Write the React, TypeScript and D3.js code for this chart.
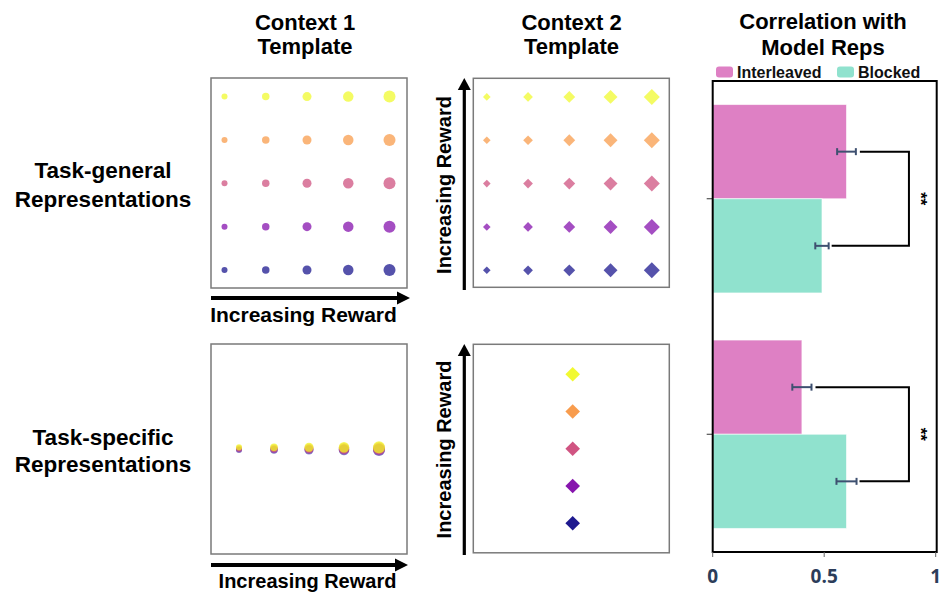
import React from 'react';
import * as d3 from 'd3';

// ---- Template grids ----
const rewardLevels = [1, 2, 3, 4, 5];               // reward magnitude per column (context 1) / size
const rowShades = [1, 0.75, 0.5, 0.25, 0];          // plasma position for each row, top to bottom

// ---- Correlation bars ----
const groups = ['Task-general', 'Task-specific'];
const conditions = ['Interleaved', 'Blocked'];
const interleavedMeans = [0.6, 0.4];
const blockedMeans = [0.49, 0.6];
const interleavedErr = [0.042, 0.043];
const blockedErr = [0.03, 0.045];
const sigLabels = ['**', '**'];
const xTicks = [0, 0.5, 1];
const xTickLabels = ['0', '0.5', '1'];

const W = 950;
const H = 596;
const FONT = "'Liberation Sans', Arial, Helvetica, sans-serif";
const BAR_COLORS: Record<string, string> = { Interleaved: '#de80c4', Blocked: '#90e2ce' };

type Box = { x: number; y: number; w: number; h: number };

function Arrow({ x1, y1, x2, y2, width = 4, head = 13, half = 6.5 }: any) {
  const a = Math.atan2(y2 - y1, x2 - x1);
  const bx = x2 - head * Math.cos(a);
  const by = y2 - head * Math.sin(a);
  const nx = -Math.sin(a) * half;
  const ny = Math.cos(a) * half;
  return (
    <g>
      <line x1={x1} y1={y1} x2={bx} y2={by} stroke="#000" strokeWidth={width} />
      <polygon
        points={`${x2},${y2} ${bx + nx},${by + ny} ${bx - nx},${by - ny}`}
        fill="#000"
      />
    </g>
  );
}

function diamond(cx: number, cy: number, r: number) {
  return `M${cx},${cy - r}L${cx + r},${cy}L${cx},${cy + r}L${cx - r},${cy}Z`;
}

function Frame({ b }: { b: Box }) {
  return <rect x={b.x} y={b.y} width={b.w} height={b.h} fill="#fff" stroke="#7a7a7a" strokeWidth={1.5} />;
}

function GeneralGrid({ b, shape }: { b: Box; shape: 'circle' | 'diamond' }) {
  const x = d3.scalePoint<number>().domain(rewardLevels).range([b.x + 13.5, b.x + 178.5]);
  const y = d3.scalePoint<number>().domain(rowShades).range([b.y + 18.6, b.y + 192]);
  const rCircle = d3.scaleLinear().domain([1, 5]).range([3, 6]);
  const rDiamond = d3.scaleLinear().domain([1, 5]).range([3.8, 8]);
  return (
    <g>
      <Frame b={b} />
      {rowShades.map((s) =>
        rewardLevels.map((v) =>
          shape === 'circle' ? (
            <circle key={`${s}-${v}`} cx={x(v)} cy={y(s)} r={rCircle(v)} fill={d3.interpolatePlasma(s)} fillOpacity={0.7} />
          ) : (
            <path key={`${s}-${v}`} d={diamond(x(v)!, y(s)!, rDiamond(v))} fill={d3.interpolatePlasma(s)} fillOpacity={0.7} />
          )
        )
      )}
    </g>
  );
}

// Context 1, task-specific: the rows collapse onto one line, reward still spreads along x
function SpecificRow({ b }: { b: Box }) {
  const x = d3.scalePoint<number>().domain(rewardLevels).range([b.x + 28, b.x + 168]);
  const dy = d3.scalePoint<number>().domain(rowShades).range([-1, 1.8]);
  const cy = b.y + 104.3;
  const r = d3.scaleLinear().domain([1, 5]).range([3, 6]);
  const drawOrder = [...rowShades].reverse();
  return (
    <g>
      <Frame b={b} />
      {drawOrder.map((s) =>
        rewardLevels.map((v) => (
          <circle
            key={`${s}-${v}`}
            cx={x(v)}
            cy={cy + dy(s)!}
            r={r(v)}
            fill={d3.interpolatePlasma(s)}
            fillOpacity={s === 1 ? 0.7 : 0.45}
          />
        ))
      )}
    </g>
  );
}

// Context 2, task-specific: reward spreads along y in a single column
function SpecificColumn({ b }: { b: Box }) {
  const y = d3.scalePoint<number>().domain(rowShades).range([b.y + 30, b.y + 179]);
  const cx = b.x + 99.4;
  return (
    <g>
      <Frame b={b} />
      {rowShades.map((s) => (
        <path key={s} d={diamond(cx, y(s)!, 7.3)} fill={d3.interpolatePlasma(s)} fillOpacity={0.93} />
      ))}
    </g>
  );
}

function BarPanel() {
  const top = 81;
  const bottom = 552;
  const x = d3.scaleLinear().domain([0, 1]).range([712.7, 935.7]);
  const y = d3.scaleBand<string>().domain(groups).range([top, bottom]).paddingInner(0.2).paddingOuter(0.1);
  const sub = d3.scaleBand<string>().domain(conditions).range([0, y.bandwidth()]);
  const means: Record<string, number[]> = { Interleaved: interleavedMeans, Blocked: blockedMeans };
  const errs: Record<string, number[]> = { Interleaved: interleavedErr, Blocked: blockedErr };
  const bracketX = x(0.88);
  const errColor = '#3e5070';
  return (
    <g>
      {/* legend */}
      {conditions.map((c, i) => {
        const lx = i === 0 ? 716 : 837;
        return (
          <g key={c}>
            <rect x={lx} y={66.5} width={17} height={11} rx={3} fill={BAR_COLORS[c]} />
            <text x={lx + 21} y={77.5} fontFamily={FONT} fontWeight="bold" fontSize={16} fill="#111">
              {c}
            </text>
          </g>
        );
      })}

      {groups.map((g, gi) => (
        <g key={g}>
          {conditions.map((c) => {
            const y0 = y(g)! + sub(c)!;
            const v = means[c][gi];
            return (
              <rect key={c} x={x(0)} y={y0} width={x(v) - x(0)} height={sub.bandwidth()} fill={BAR_COLORS[c]} stroke="#fff" strokeOpacity={0.6} strokeWidth={1} />
            );
          })}
          {conditions.map((c) => {
            const cy = y(g)! + sub(c)! + sub.bandwidth() / 2;
            const v = means[c][gi];
            const e = errs[c][gi];
            return (
              <g key={c} stroke={errColor} strokeWidth={2}>
                <line x1={x(v - e)} x2={x(v + e)} y1={cy} y2={cy} />
                <line x1={x(v - e)} x2={x(v - e)} y1={cy - 3.5} y2={cy + 3.5} />
                <line x1={x(v + e)} x2={x(v + e)} y1={cy - 3.5} y2={cy + 3.5} />
              </g>
            );
          })}
          {/* significance bracket */}
          {(() => {
            const yA = y(g)! + sub('Interleaved')! + sub.bandwidth() / 2;
            const yB = y(g)! + sub('Blocked')! + sub.bandwidth() / 2;
            const xA = x(interleavedMeans[gi] + interleavedErr[gi]) + 4;
            const xB = x(blockedMeans[gi] + blockedErr[gi]) + 3;
            return (
              <g>
                <path d={`M${xA},${yA}H${bracketX}V${yB}H${xB}`} fill="none" stroke="#000" strokeWidth={2} />
                <text
                  transform={`translate(${bracketX + 6},${(yA + yB) / 2}) rotate(90)`}
                  textAnchor="middle"
                  fontFamily={FONT}
                  fontWeight="bold"
                  fontSize={17}
                  fill="#000"
                >
                  {sigLabels[gi]}
                </text>
              </g>
            );
          })()}
          <line x1={x(0) - 6} x2={x(0)} y1={y(g)! + y.bandwidth() / 2} y2={y(g)! + y.bandwidth() / 2} stroke="#333" strokeWidth={1} />
        </g>
      ))}

      <rect x={x(0)} y={top} width={x(1) - x(0) + 1} height={bottom - top} fill="none" stroke="#000" strokeWidth={2} />

      {xTicks.map((t, i) => (
        <g key={t}>
          <line x1={x(t)} x2={x(t)} y1={bottom} y2={bottom + 5} stroke="#666" strokeWidth={1} />
          <text x={x(t)} y={583} textAnchor="middle" fontFamily="'Open Sans', sans-serif" fontWeight="bold" fontSize={19} fill="#2c3d5a">
            {xTickLabels[i]}
          </text>
        </g>
      ))}
    </g>
  );
}

function Title({ x, lines, y0, dy = 26, size = 22 }: any) {
  return (
    <text x={x} textAnchor="middle" fontFamily={FONT} fontWeight="bold" fontSize={size} fill="#000">
      {lines.map((l: string, i: number) => (
        <tspan key={i} x={x} y={y0 + i * dy}>
          {l}
        </tspan>
      ))}
    </text>
  );
}

export default function App() {
  const p1: Box = { x: 211, y: 78, w: 196, h: 210 };
  const p2: Box = { x: 473.3, y: 78.3, w: 196, h: 209 };
  const p3: Box = { x: 211, y: 344, w: 196, h: 210 };
  const p4: Box = { x: 473.3, y: 344.3, w: 196, h: 208.5 };
  return (
    <svg width={W} height={H} style={{ position: 'absolute', left: 0, top: 0, background: '#fff' }}>
      <rect width={W} height={H} fill="#fff" />

      <Title x={305} lines={['Context 1', 'Template']} y0={30} dy={23.5} />
      <Title x={571.5} lines={['Context 2', 'Template']} y0={30} dy={23.5} />
      <Title x={823} lines={['Correlation with', 'Model Reps']} y0={28.5} dy={26.5} />

      <Title x={103} lines={['Task-general', 'Representations']} y0={178} dy={28.5} size={22.5} />
      <Title x={103} lines={['Task-specific', 'Representations']} y0={445} dy={27} size={22.5} />

      <GeneralGrid b={p1} shape="circle" />
      <GeneralGrid b={p2} shape="diamond" />
      <SpecificRow b={p3} />
      <SpecificColumn b={p4} />

      {/* reward direction arrows */}
      <Arrow x1={p1.x} y1={298} x2={410} y2={298} />
      <text x={303.5} y={322} textAnchor="middle" fontFamily={FONT} fontWeight="bold" fontSize={21}>
        Increasing Reward
      </text>
      <Arrow x1={p3.x} y1={565} x2={408} y2={565} />
      <text x={307.5} y={588} textAnchor="middle" fontFamily={FONT} fontWeight="bold" fontSize={20}>
        Increasing Reward
      </text>

      <Arrow x1={464.3} y1={290} x2={464.3} y2={78} width={3.2} head={12} half={6.5} />
      <text transform="translate(451,185) rotate(-90)" textAnchor="middle" fontFamily={FONT} fontWeight="bold" fontSize={20}>
        Increasing Reward
      </text>
      <Arrow x1={464.3} y1={555} x2={464.3} y2={344} width={3.2} head={12} half={6.5} />
      <text transform="translate(451,449.5) rotate(-90)" textAnchor="middle" fontFamily={FONT} fontWeight="bold" fontSize={20}>
        Increasing Reward
      </text>

      <BarPanel />
    </svg>
  );
}
